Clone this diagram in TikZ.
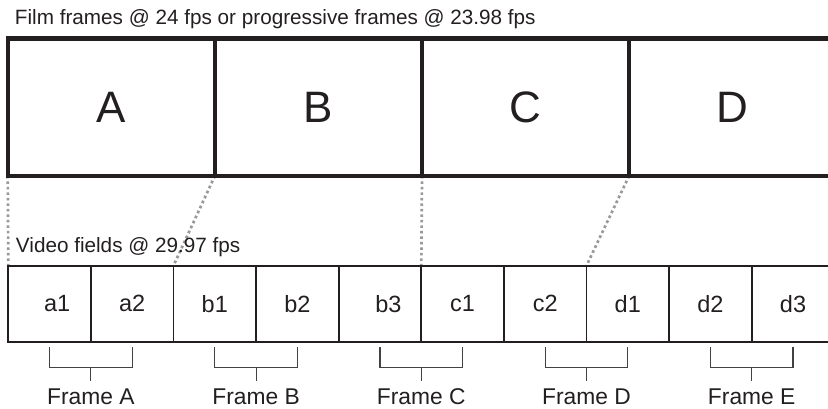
\documentclass[tikz,border=0pt]{standalone}
\usepackage{fontspec}
\setmainfont{Liberation Sans}
\usetikzlibrary{backgrounds,calc}
\definecolor{ink}{HTML}{231F20}
\definecolor{dotgray}{HTML}{999999}
\begin{document}
\begin{tikzpicture}[x=1pt,y=1pt,
  film/.style={draw=ink, line width=4.3pt, minimum width=207.1pt, minimum height=137.3pt, inner sep=0pt, outer sep=0pt, text=ink, font=\fontsize{44}{44}\selectfont},
  field/.style={draw=ink, line width=1.8pt, minimum width=82.6pt, minimum height=76.3pt, inner sep=0pt, outer sep=0pt, text=ink, font=\fontsize{23.5}{23.5}\selectfont},
  caption/.style={text=ink, inner sep=0pt, font=\fontsize{20.7}{20.7}\selectfont},
  framelabel/.style={text=ink, inner sep=0pt, font=\fontsize{22.8}{22.8}\selectfont},
  bracket/.style={draw=ink!85, line width=1.1pt},
  link/.style={draw=dotgray, line width=2.7pt, dash pattern=on 2.7pt off 2.8pt}]
\useasboundingbox (0,0) rectangle (828,409);
\clip (0,0) rectangle (828,409);

% captions
\node[caption, anchor=base west] (title) at (14.8,384) {Film frames @ 24 fps or progressive frames @ 23.98 fps};
\node[caption, anchor=base west] (vtitle) at (15.8,156.3) {Video fields @ 29.97 fps};

% film frames
\node[film, anchor=north west] (A) at (7.8,370.5) {A};
\node[film, anchor=west] (B) at (A.east) {B};
\node[film, anchor=west] (C) at (B.east) {C};
\node[film, anchor=west] (D) at (C.east) {D};

% video fields
\node[field, anchor=north west] (a1) at (8.3,143.3) {\hspace*{15pt}a1};
\node[field, anchor=west] (a2) at (a1.east) {a2};
\node[field, anchor=west] (b1) at (a2.east) {b1};
\node[field, anchor=west] (b2) at (b1.east) {b2};
\node[field, anchor=west] (b3) at (b2.east) {\hspace*{17pt}b3};
\node[field, anchor=west] (c1) at (b3.east) {c1};
\node[field, anchor=west] (c2) at (c1.east) {c2};
\node[field, anchor=west] (d1) at (c2.east) {d1};
\node[field, anchor=west] (d2) at (d1.east) {d2};
\node[field, anchor=west] (d3) at (d2.east) {d3};

% dotted links
\begin{scope}[on background layer]
\draw[link] (A.south west) -- (a1.north west);
\draw[link] (B.south west) -- (b1.north west);
\draw[link] (C.south west) -- (c1.north west);
\draw[link] (D.south west) -- (d1.north west);
\end{scope}

% brackets and frame labels
\foreach \l/\r/\n in {a1/a2/A, b1/b2/B, b3/c1/C, c2/d1/D, d2/d3/E}{
  \draw[bracket] ([yshift=-5.3pt]\l.south) -- ([yshift=-25.7pt]\l.south) -- ([yshift=-25.7pt]\r.south) -- ([yshift=-5.3pt]\r.south);
  \coordinate (m\n) at ($(\l.south)!0.5!(\r.south)$);
  \draw[bracket] ([yshift=-25.7pt]m\n) -- ([yshift=-38.7pt]m\n);
  \node[framelabel, anchor=base] (f\n) at ([yshift=-63pt]m\n) {Frame \n};
}
\end{tikzpicture}
\end{document}
